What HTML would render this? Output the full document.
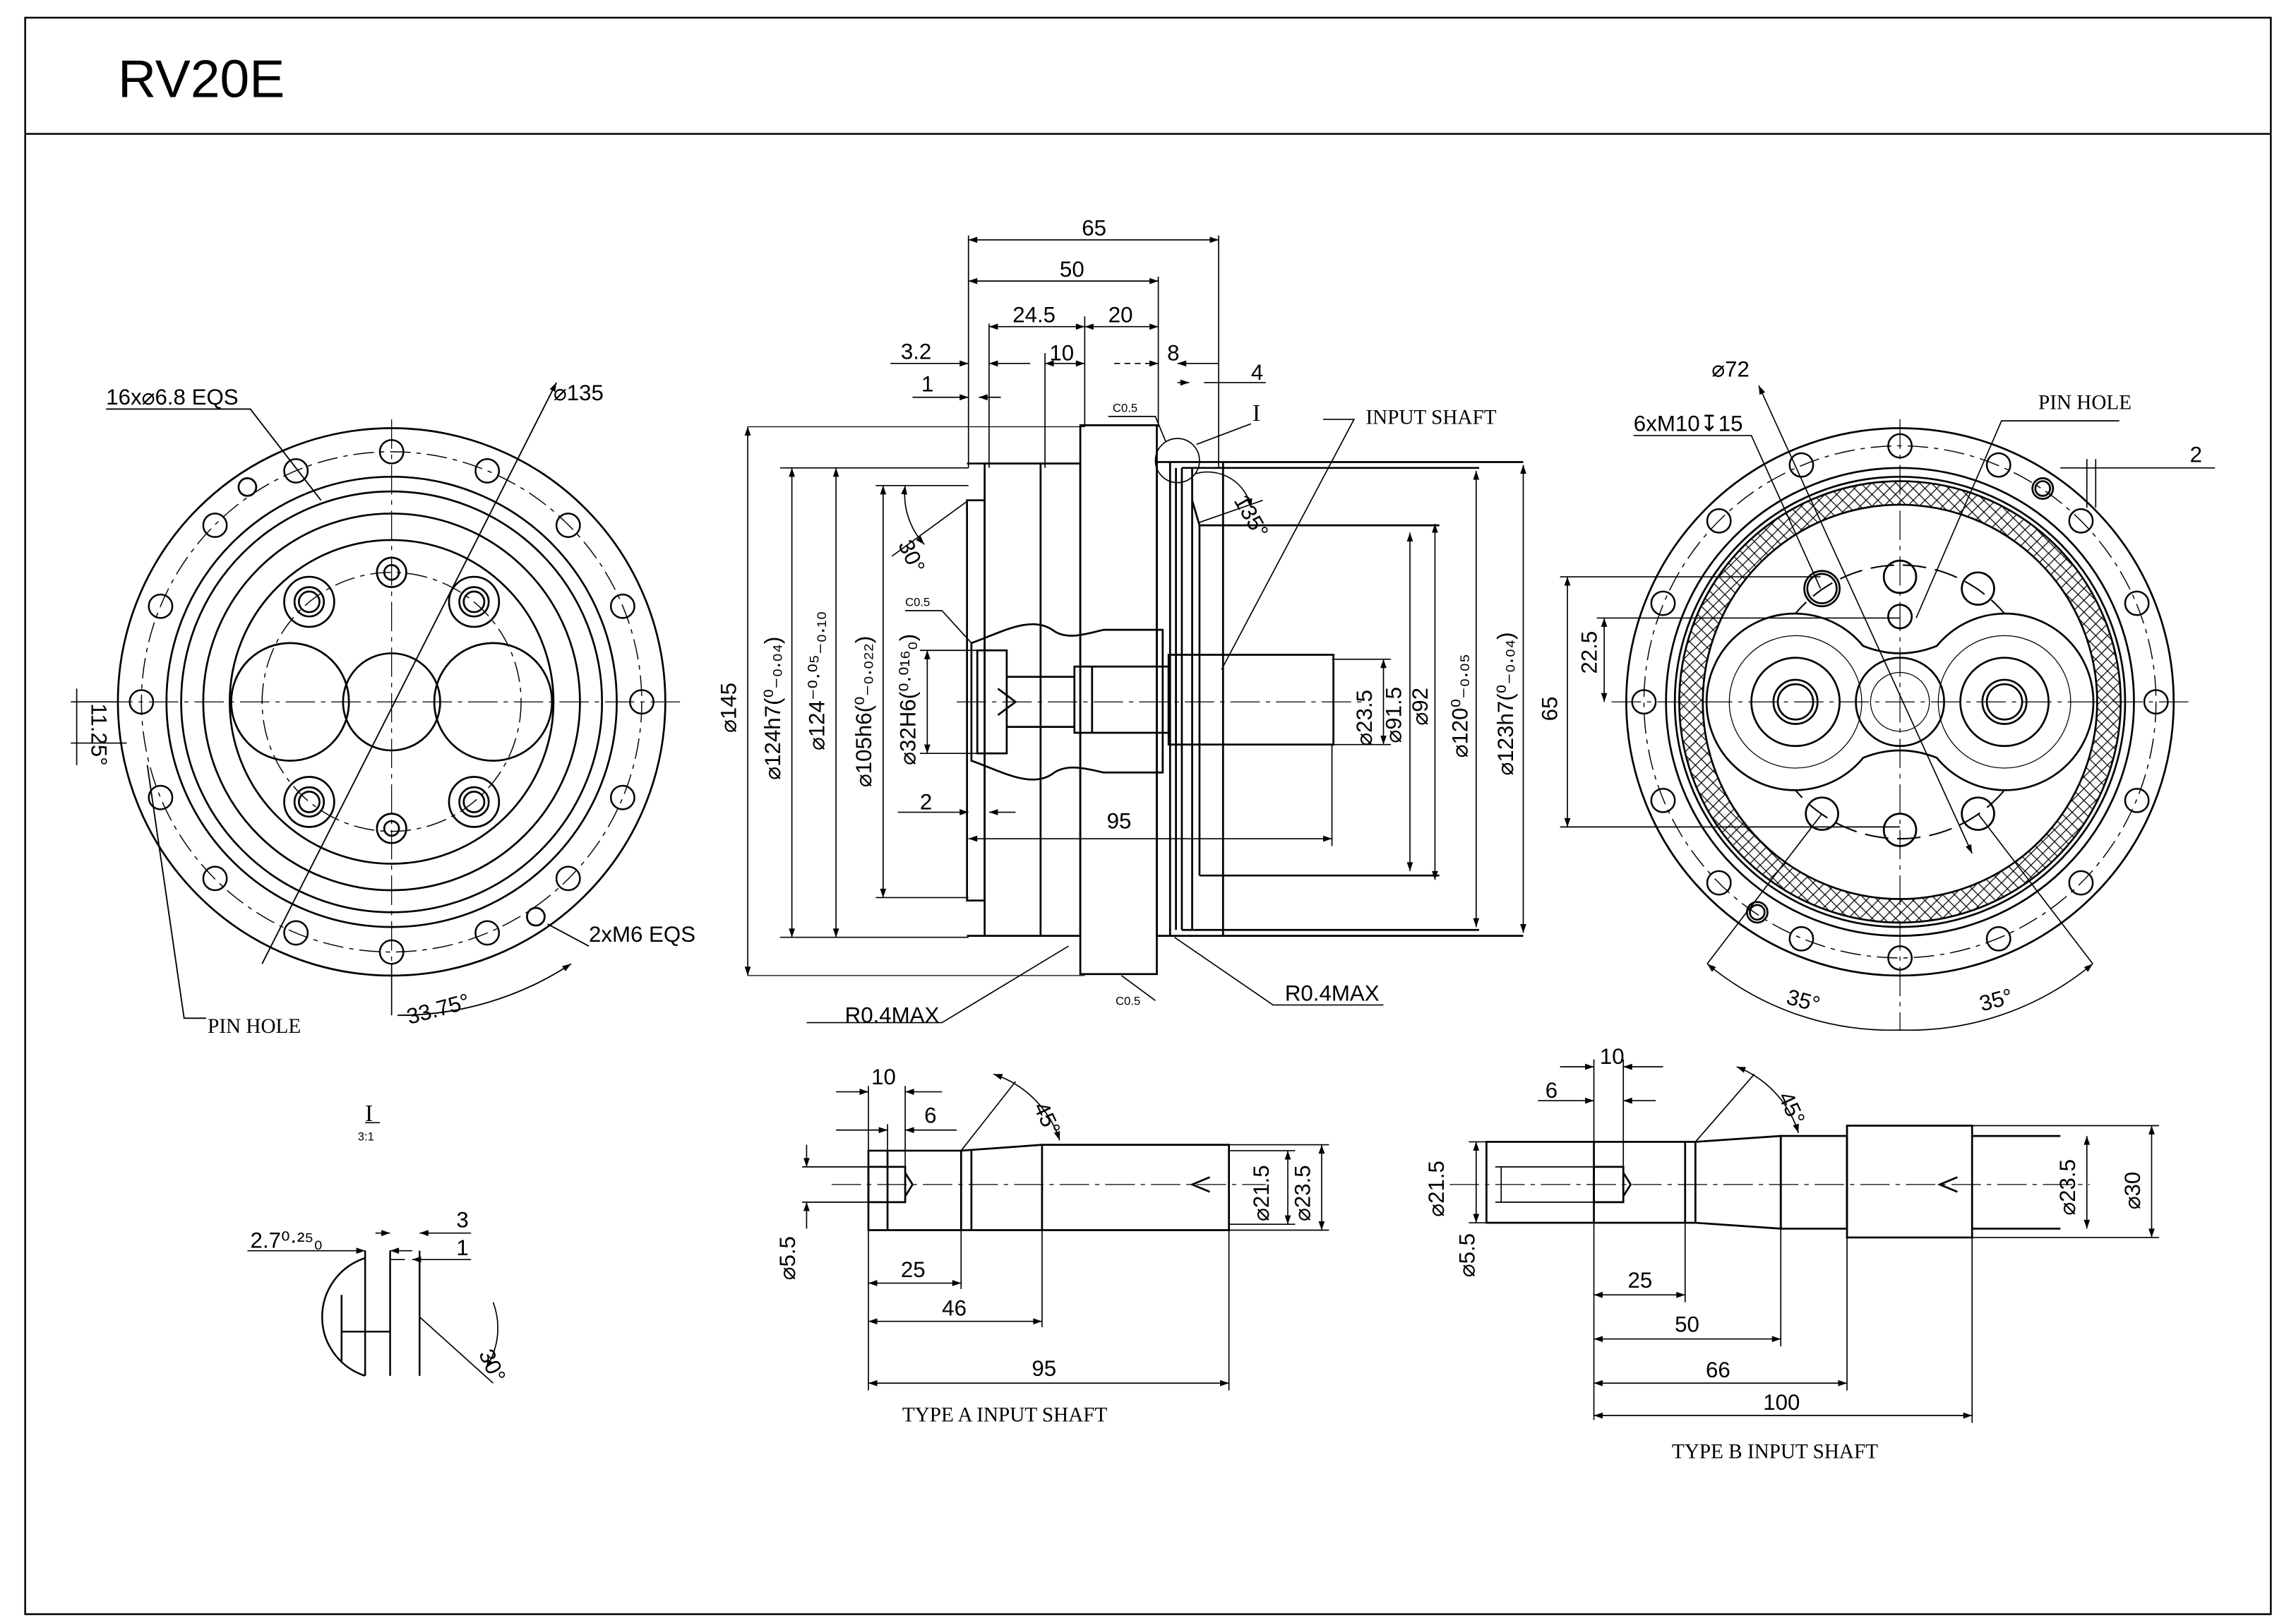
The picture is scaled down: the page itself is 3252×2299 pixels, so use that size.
<!DOCTYPE html>
<html><head><meta charset="utf-8"><style>
html,body{margin:0;padding:0;background:#fff;}
svg{display:block}
text{font-family:"Liberation Sans",sans-serif;fill:#000}
.s{font-family:"Liberation Serif",serif}
</style></head><body>
<svg width="3252" height="2299" viewBox="0 0 1560 1103" xmlns="http://www.w3.org/2000/svg">
<defs>
<marker id="a" viewBox="0 0 10 10" refX="10" refY="5" markerWidth="8" markerHeight="6" orient="auto-start-reverse" markerUnits="userSpaceOnUse"><path d="M0,1.5 L10,5 L0,8.5 z" fill="#000"/></marker>
<pattern id="h" width="8" height="8" patternUnits="userSpaceOnUse"><path d="M0,0L8,8M8,0L0,8" stroke="#000" stroke-width="0.6"/></pattern>
</defs>
<g fill="none" stroke="#000" stroke-width="1">
<rect x="17" y="12" width="1526" height="1085" stroke-width="1.2"/>
<line x1="17" y1="91" x2="1543" y2="91" stroke-width="1.2"/>

<!-- LEFT VIEW -->
<g stroke-width="1.3">
<circle cx="266" cy="477" r="186"/>
<circle cx="266" cy="477" r="153"/>
<circle cx="266" cy="477" r="143"/>
<circle cx="266" cy="477" r="128"/>
<circle cx="266" cy="477" r="110"/>
<circle cx="266" cy="477" r="170" stroke-dasharray="14 4 3 4" stroke-width="0.7"/>
<circle cx="266" cy="477" r="88" stroke-dasharray="14 4 3 4" stroke-width="0.7"/>
<circle cx="197" cy="477" r="40"/><circle cx="335" cy="477" r="40"/>
<circle cx="266" cy="477" r="33"/>
<circle cx="210" cy="409" r="17"/><circle cx="210" cy="409" r="10"/><circle cx="210" cy="409" r="7"/>
<circle cx="322" cy="409" r="17"/><circle cx="322" cy="409" r="10"/><circle cx="322" cy="409" r="7"/>
<circle cx="210" cy="545" r="17"/><circle cx="210" cy="545" r="10"/><circle cx="210" cy="545" r="7"/>
<circle cx="322" cy="545" r="17"/><circle cx="322" cy="545" r="10"/><circle cx="322" cy="545" r="7"/>
<circle cx="266" cy="389" r="10"/><circle cx="266" cy="389" r="5"/>
<circle cx="266" cy="563" r="10"/><circle cx="266" cy="563" r="5"/>
<circle cx="168" cy="331" r="6"/><circle cx="364" cy="623" r="6"/>
</g>
<g stroke-width="1.2">
<circle cx="266" cy="307" r="8"/><circle cx="201" cy="320" r="8"/><circle cx="146" cy="357" r="8"/><circle cx="109" cy="412" r="8"/>
<circle cx="96" cy="477" r="8"/><circle cx="109" cy="542" r="8"/><circle cx="146" cy="597" r="8"/><circle cx="201" cy="634" r="8"/>
<circle cx="266" cy="647" r="8"/><circle cx="331" cy="634" r="8"/><circle cx="386" cy="597" r="8"/><circle cx="423" cy="542" r="8"/>
<circle cx="436" cy="477" r="8"/><circle cx="423" cy="412" r="8"/><circle cx="386" cy="357" r="8"/><circle cx="331" cy="320" r="8"/>
</g>
<g stroke-width="0.6" stroke-dasharray="20 4 3 4">
<line x1="70" y1="477" x2="462" y2="477"/><line x1="266" y1="285" x2="266" y2="670"/>
</g>
<line x1="178" y1="655" x2="378" y2="260" stroke-width="0.9" marker-end="url(#a)"/>
<polyline points="72,278 170,278 218,340" stroke-width="0.9"/>
<polyline points="400,643 372,628" stroke-width="0.9"/>
<polyline points="100,520 125,692 140,692" stroke-width="0.9"/>
<path d="M266,690 L266,655" stroke-width="0.8"/>
<path d="M270,690 A213,213 0 0 0 388,655" stroke-width="0.9" marker-end="url(#a)"/>
<line x1="48" y1="477" x2="80" y2="477" stroke-width="0.8"/><line x1="48" y1="505" x2="86" y2="505" stroke-width="0.8"/>
<path d="M52,468 L52,520" stroke-width="0.8"/>

<!-- MIDDLE VIEW -->
<g stroke-width="1.3">
<rect x="734" y="289" width="52" height="373"/>
<rect x="669" y="315" width="65" height="321"/>
<rect x="657" y="340" width="12" height="272"/>
<line x1="657" y1="315" x2="669" y2="315"/><line x1="657" y1="636" x2="669" y2="636"/>
<line x1="707" y1="315" x2="707" y2="636"/>
<rect x="786" y="314" width="45" height="322"/>
<line x1="795" y1="314" x2="795" y2="636"/><line x1="799" y1="318" x2="799" y2="632"/><line x1="803" y1="318" x2="803" y2="632"/>
<line x1="810" y1="318" x2="810" y2="632"/>
<line x1="815" y1="357" x2="815" y2="595"/>
<line x1="810" y1="340" x2="815" y2="357"/>
<line x1="815" y1="357" x2="978" y2="357"/><line x1="815" y1="595" x2="978" y2="595"/>
<line x1="831" y1="314" x2="1035" y2="314"/><line x1="831" y1="636" x2="1035" y2="636"/>
<line x1="803" y1="318" x2="1005" y2="318"/><line x1="803" y1="632" x2="1005" y2="632"/>
<rect x="794" y="445" width="112" height="61"/>
<rect x="730" y="453" width="64" height="45"/>
<line x1="742" y1="453" x2="742" y2="498"/>
<path d="M660,437 C680,430 700,418 715,428 C725,436 740,430 750,428 L790,428 L790,525 L750,525 C740,523 725,518 715,526 C700,536 680,524 660,517 Z"/>
<rect x="664" y="442" width="20" height="70"/>
<line x1="684" y1="460" x2="730" y2="460"/><line x1="684" y1="494" x2="730" y2="494"/>
<path d="M678,468 L690,477 L678,486"/>
</g>
<line x1="650" y1="477" x2="925" y2="477" stroke-width="0.6" stroke-dasharray="20 4 3 4"/>
<g stroke-width="0.8">
<line x1="658" y1="160" x2="658" y2="318"/><line x1="828" y1="160" x2="828" y2="318"/>
<line x1="658" y1="163" x2="828" y2="163" marker-start="url(#a)" marker-end="url(#a)"/>
<line x1="787" y1="188" x2="787" y2="290"/>
<line x1="658" y1="191" x2="787" y2="191" marker-start="url(#a)" marker-end="url(#a)"/>
<line x1="737" y1="215" x2="737" y2="290"/><line x1="672" y1="220" x2="672" y2="318"/>
<line x1="672" y1="222" x2="737" y2="222" marker-start="url(#a)" marker-end="url(#a)"/>
<line x1="737" y1="222" x2="787" y2="222" marker-start="url(#a)" marker-end="url(#a)"/>
<line x1="605" y1="247" x2="658" y2="247" marker-end="url(#a)"/><line x1="672" y1="247" x2="700" y2="247" marker-start="url(#a)"/>
<line x1="710" y1="247" x2="737" y2="247" marker-start="url(#a)" marker-end="url(#a)"/>
<line x1="710" y1="240" x2="710" y2="318"/>
<line x1="757" y1="247" x2="787" y2="247" marker-end="url(#a)" stroke-dasharray="4 3"/>
<line x1="800" y1="247" x2="828" y2="247" marker-start="url(#a)"/>
<line x1="818" y1="260" x2="860" y2="260"/><line x1="800" y1="260" x2="808" y2="260" marker-end="url(#a)"/>
<line x1="620" y1="270" x2="658" y2="270" marker-end="url(#a)"/><line x1="665" y1="270" x2="680" y2="270" marker-start="url(#a)"/>
<line x1="508" y1="290" x2="737" y2="290" stroke-width="0.6"/><line x1="508" y1="663" x2="737" y2="663" stroke-width="0.6"/>
<line x1="508" y1="290" x2="508" y2="663" marker-start="url(#a)" marker-end="url(#a)"/>
<line x1="538" y1="318" x2="538" y2="637" marker-start="url(#a)" marker-end="url(#a)"/>
<line x1="530" y1="318" x2="658" y2="318"/><line x1="530" y1="637" x2="658" y2="637"/>
<line x1="568" y1="318" x2="568" y2="637" marker-start="url(#a)" marker-end="url(#a)"/>
<line x1="600" y1="330" x2="600" y2="610" marker-start="url(#a)" marker-end="url(#a)"/>
<line x1="595" y1="330" x2="658" y2="330"/><line x1="595" y1="610" x2="658" y2="610"/>
<line x1="630" y1="442" x2="630" y2="512" marker-start="url(#a)" marker-end="url(#a)"/>
<line x1="625" y1="442" x2="664" y2="442"/><line x1="625" y1="512" x2="664" y2="512"/>
<line x1="610" y1="552" x2="658" y2="552" marker-end="url(#a)"/><line x1="672" y1="552" x2="690" y2="552" marker-start="url(#a)"/>
<line x1="658" y1="570" x2="905" y2="570" marker-start="url(#a)" marker-end="url(#a)"/>
<line x1="905" y1="506" x2="905" y2="575"/>
<line x1="940" y1="448" x2="940" y2="506" marker-start="url(#a)" marker-end="url(#a)"/>
<line x1="905" y1="448" x2="945" y2="448"/><line x1="905" y1="506" x2="945" y2="506"/>
<line x1="958" y1="362" x2="958" y2="592" marker-start="url(#a)" marker-end="url(#a)"/>
<line x1="975" y1="356" x2="975" y2="598" marker-start="url(#a)" marker-end="url(#a)"/>
<line x1="1003" y1="320" x2="1003" y2="630" marker-start="url(#a)" marker-end="url(#a)"/>
<line x1="1035" y1="316" x2="1035" y2="634" marker-start="url(#a)" marker-end="url(#a)"/>
<polyline points="899,285 920,285 830,455"/>
<polyline points="548,695 640,695 726,643"/>
<polyline points="940,683 865,683 798,637"/>
<polyline points="753,283 785,283 792,300"/>
<polyline points="615,415 640,415 660,437"/>
<line x1="785" y1="680" x2="762" y2="663"/>
<circle cx="800" cy="313" r="15" stroke-width="0.8"/>
<line x1="813" y1="302" x2="850" y2="288"/>
<path d="M615,330 A50,50 0 0 0 628,370" marker-start="url(#a)" marker-end="url(#a)"/>
<line x1="606" y1="378" x2="658" y2="340"/>
<path d="M812,322 A30,30 0 0 1 850,345" marker-end="url(#a)"/>
<line x1="815" y1="355" x2="858" y2="340"/>
</g>

<!-- RIGHT VIEW -->
<circle cx="1291" cy="477" r="150" fill="url(#h)" stroke="none"/>
<circle cx="1291" cy="477" r="134" fill="#fff" stroke="none"/>
<g stroke-width="1.3">
<circle cx="1291" cy="477" r="186"/>
<circle cx="1291" cy="477" r="159"/>
<circle cx="1291" cy="477" r="153"/>
<circle cx="1291" cy="477" r="150"/>
<circle cx="1291" cy="477" r="134"/>
<circle cx="1291" cy="477" r="174" stroke-dasharray="14 4 3 4" stroke-width="0.7"/>
<circle cx="1291" cy="477" r="93" stroke-dasharray="16 6" stroke-width="1"/>
<path d="M1266,439 A60,60 0 1 0 1266,515 Q1291,505 1316,515 A60,60 0 1 0 1316,439 Q1291,449 1266,439 Z" fill="#fff"/>
<circle cx="1220" cy="477" r="30"/><circle cx="1220" cy="477" r="15"/><circle cx="1220" cy="477" r="12"/>
<circle cx="1362" cy="477" r="30"/><circle cx="1362" cy="477" r="15"/><circle cx="1362" cy="477" r="12"/>
<circle cx="1220" cy="477" r="45" stroke-width="0.6"/><circle cx="1362" cy="477" r="45" stroke-width="0.6"/>
<circle cx="1291" cy="477" r="30"/><circle cx="1291" cy="477" r="20" stroke-width="0.6"/>
<circle cx="1238" cy="400" r="12"/><circle cx="1238" cy="400" r="10"/>
<circle cx="1344" cy="400" r="11"/><circle cx="1238" cy="553" r="11"/><circle cx="1344" cy="553" r="11"/>
<circle cx="1291" cy="392" r="11"/><circle cx="1291" cy="564" r="11"/>
<circle cx="1291" cy="419" r="8"/>
<circle cx="1194" cy="620" r="7"/><circle cx="1194" cy="620" r="5"/><circle cx="1388" cy="332" r="7"/><circle cx="1388" cy="332" r="5"/>
</g>
<g stroke-width="1.2">
<circle cx="1291" cy="303" r="8"/><circle cx="1224" cy="316" r="8"/><circle cx="1168" cy="354" r="8"/><circle cx="1130" cy="410" r="8"/>
<circle cx="1117" cy="477" r="8"/><circle cx="1130" cy="544" r="8"/><circle cx="1168" cy="600" r="8"/><circle cx="1224" cy="638" r="8"/>
<circle cx="1291" cy="651" r="8"/><circle cx="1358" cy="638" r="8"/><circle cx="1414" cy="600" r="8"/><circle cx="1452" cy="544" r="8"/>
<circle cx="1465" cy="477" r="8"/><circle cx="1452" cy="410" r="8"/><circle cx="1414" cy="354" r="8"/><circle cx="1358" cy="316" r="8"/>
</g>
<g stroke-width="0.6" stroke-dasharray="20 4 3 4">
<line x1="1095" y1="477" x2="1490" y2="477"/><line x1="1291" y1="285" x2="1291" y2="700"/>
</g>
<g stroke-width="0.8">
<line x1="1060" y1="392" x2="1237" y2="392"/><line x1="1060" y1="562" x2="1291" y2="562"/>
<line x1="1065" y1="392" x2="1065" y2="562" marker-start="url(#a)" marker-end="url(#a)"/>
<line x1="1085" y1="420" x2="1291" y2="420"/>
<line x1="1090" y1="420" x2="1090" y2="477" marker-start="url(#a)" marker-end="url(#a)"/>
<polyline points="1110,296 1190,296 1237,400"/>
<line x1="1195" y1="262" x2="1340" y2="580" marker-start="url(#a)" marker-end="url(#a)"/>
<polyline points="1440,286 1360,286 1302,420"/>
<line x1="1400" y1="318" x2="1505" y2="318"/>
<line x1="1418" y1="312" x2="1418" y2="345"/><line x1="1424" y1="312" x2="1424" y2="345"/>
<path d="M1160,655 A195,195 0 0 0 1291,700 A195,195 0 0 0 1422,655" marker-start="url(#a)" marker-end="url(#a)"/>
<line x1="1160" y1="655" x2="1238" y2="553"/><line x1="1422" y1="655" x2="1344" y2="553"/>
</g>

<!-- DETAIL I -->
<g stroke-width="1.2">
<path d="M248,855 A42,42 0 0 0 248,935"/>
<line x1="248" y1="850" x2="248" y2="935"/><line x1="265" y1="850" x2="265" y2="935"/>
<line x1="285" y1="850" x2="285" y2="935"/>
<line x1="232" y1="905" x2="265" y2="905"/><line x1="232" y1="880" x2="232" y2="925"/>
</g>
<g stroke-width="0.8">
<line x1="168" y1="850" x2="248" y2="850" marker-end="url(#a)"/><line x1="265" y1="850" x2="280" y2="850" marker-start="url(#a)"/>
<line x1="255" y1="838" x2="265" y2="838" marker-end="url(#a)"/><line x1="285" y1="838" x2="320" y2="838" marker-start="url(#a)"/>
<line x1="265" y1="856" x2="275" y2="856"/><line x1="280" y1="856" x2="320" y2="856" marker-start="url(#a)"/>
<line x1="285" y1="895" x2="335" y2="940"/>
<path d="M335,885 A50,50 0 0 1 330,930" marker-end="url(#a)"/>
<line x1="248" y1="763" x2="258" y2="763"/>
</g>

<!-- TYPE A -->
<g stroke-width="1.3">
<path d="M590,782 L653,782 L653,836 L590,836 Z"/>
<path d="M653,782 L708,778 L835,778 L835,836 L708,836 L653,836"/>
<line x1="708" y1="778" x2="708" y2="836"/>
<line x1="660" y1="782" x2="660" y2="836"/>
<line x1="603" y1="782" x2="603" y2="836"/>
<rect x="590" y="793" width="25" height="24"/>
<path d="M615,797 L620,805 L615,813"/>
<path d="M822,800 L810,805 L822,810"/>
</g>
<line x1="565" y1="805" x2="860" y2="805" stroke-width="0.6" stroke-dasharray="20 4 3 4"/>
<g stroke-width="0.8">
<line x1="568" y1="742" x2="590" y2="742" marker-end="url(#a)"/><line x1="615" y1="742" x2="640" y2="742" marker-start="url(#a)"/>
<line x1="590" y1="738" x2="590" y2="945"/><line x1="615" y1="738" x2="615" y2="793"/>
<line x1="568" y1="768" x2="603" y2="768" marker-end="url(#a)"/><line x1="615" y1="768" x2="650" y2="768" marker-start="url(#a)"/>
<line x1="603" y1="764" x2="603" y2="782"/>
<line x1="548" y1="778" x2="548" y2="793" marker-end="url(#a)"/><line x1="548" y1="835" x2="548" y2="817" marker-end="url(#a)"/>
<line x1="545" y1="793" x2="590" y2="793"/><line x1="545" y1="817" x2="590" y2="817"/>
<line x1="590" y1="872" x2="653" y2="872" marker-start="url(#a)" marker-end="url(#a)"/>
<line x1="653" y1="836" x2="653" y2="876"/>
<line x1="590" y1="898" x2="708" y2="898" marker-start="url(#a)" marker-end="url(#a)"/>
<line x1="708" y1="836" x2="708" y2="902"/>
<line x1="590" y1="940" x2="835" y2="940" marker-start="url(#a)" marker-end="url(#a)"/>
<line x1="835" y1="836" x2="835" y2="945"/>
<line x1="875" y1="782" x2="875" y2="832" marker-start="url(#a)" marker-end="url(#a)"/>
<line x1="835" y1="782" x2="880" y2="782"/><line x1="835" y1="832" x2="880" y2="832"/>
<line x1="898" y1="778" x2="898" y2="836" marker-start="url(#a)" marker-end="url(#a)"/>
<line x1="835" y1="778" x2="903" y2="778"/><line x1="835" y1="836" x2="903" y2="836"/>
<line x1="653" y1="782" x2="690" y2="735"/>
<path d="M675,730 A70,70 0 0 1 720,775" marker-start="url(#a)" marker-end="url(#a)"/>
</g>

<!-- TYPE B -->
<g stroke-width="1.3">
<rect x="1010" y="776" width="142" height="55"/>
<line x1="1083" y1="776" x2="1083" y2="831"/>
<line x1="1145" y1="776" x2="1145" y2="831"/>
<path d="M1152,776 L1210,772 L1210,835 L1152,831"/>
<rect x="1210" y="772" width="45" height="63"/>
<rect x="1255" y="765" width="85" height="76"/>
<line x1="1340" y1="772" x2="1400" y2="772"/><line x1="1340" y1="835" x2="1400" y2="835"/>
<rect x="1083" y="793" width="20" height="24"/>
<path d="M1103,797 L1108,805 L1103,813"/>
<path d="M1330,800 L1318,805 L1330,810"/>
</g>
<line x1="985" y1="805" x2="1420" y2="805" stroke-width="0.6" stroke-dasharray="20 4 3 4"/>
<g stroke-width="0.8">
<line x1="1060" y1="725" x2="1083" y2="725" marker-end="url(#a)"/><line x1="1103" y1="725" x2="1130" y2="725" marker-start="url(#a)"/>
<line x1="1083" y1="720" x2="1083" y2="965"/><line x1="1103" y1="720" x2="1103" y2="793"/>
<line x1="1045" y1="748" x2="1083" y2="748" marker-end="url(#a)"/><line x1="1103" y1="748" x2="1125" y2="748" marker-start="url(#a)"/>
<line x1="1003" y1="776" x2="1003" y2="831" marker-start="url(#a)" marker-end="url(#a)"/>
<line x1="998" y1="776" x2="1010" y2="776"/><line x1="998" y1="831" x2="1010" y2="831"/>
<line x1="1020" y1="793" x2="1020" y2="817"/>
<line x1="1016" y1="793" x2="1083" y2="793"/><line x1="1016" y1="817" x2="1083" y2="817"/>
<line x1="1083" y1="880" x2="1145" y2="880" marker-start="url(#a)" marker-end="url(#a)"/>
<line x1="1145" y1="831" x2="1145" y2="885"/>
<line x1="1083" y1="910" x2="1210" y2="910" marker-start="url(#a)" marker-end="url(#a)"/>
<line x1="1210" y1="835" x2="1210" y2="915"/>
<line x1="1083" y1="940" x2="1255" y2="940" marker-start="url(#a)" marker-end="url(#a)"/>
<line x1="1255" y1="841" x2="1255" y2="945"/>
<line x1="1083" y1="962" x2="1340" y2="962" marker-start="url(#a)" marker-end="url(#a)"/>
<line x1="1340" y1="841" x2="1340" y2="967"/>
<line x1="1418" y1="772" x2="1418" y2="835" marker-start="url(#a)" marker-end="url(#a)"/>
<line x1="1462" y1="765" x2="1462" y2="841" marker-start="url(#a)" marker-end="url(#a)"/>
<line x1="1340" y1="765" x2="1467" y2="765"/><line x1="1340" y1="841" x2="1467" y2="841"/>
<line x1="1152" y1="776" x2="1192" y2="730"/>
<path d="M1180,725 A70,70 0 0 1 1222,770" marker-start="url(#a)" marker-end="url(#a)"/>
</g>
</g>

<!-- TEXT -->
<text x="80" y="66" font-size="36">RV20E</text>
<g font-size="15">
<text x="72" y="275">16x⌀6.8 EQS</text>
<text x="376" y="272">⌀135</text>
<text x="400" y="640">2xM6 EQS</text>
<text x="275" y="690" transform="rotate(-15 300 682)">33.75°</text>
<text x="62" y="478" transform="rotate(90 62 478)">11.25°</text>
<text x="735" y="160">65</text>
<text x="720" y="188">50</text>
<text x="688" y="219">24.5</text>
<text x="753" y="219">20</text>
<text x="612" y="244">3.2</text>
<text x="713" y="245">10</text>
<text x="793" y="245">8</text>
<text x="850" y="258">4</text>
<text x="626" y="266">1</text>
<text x="625" y="550">2</text>
<text x="752" y="563">95</text>
<text x="574" y="695">R0.4MAX</text>
<text x="873" y="680">R0.4MAX</text>
<text x="500" y="498" transform="rotate(-90 500 498)">⌀145</text>
<text x="530" y="530" transform="rotate(-90 530 530)">⌀124h7(⁰₋₀.₀₄)</text>
<text x="560" y="510" transform="rotate(-90 560 510)">⌀124⁻⁰·⁰⁵₋₀.₁₀</text>
<text x="592" y="535" transform="rotate(-90 592 535)">⌀105h6(⁰₋₀.₀₂₂)</text>
<text x="622" y="520" transform="rotate(-90 622 520)">⌀32H6(⁰·⁰¹⁶₀)</text>
<text x="932" y="507" transform="rotate(-90 932 507)">⌀23.5</text>
<text x="952" y="505" transform="rotate(-90 952 505)">⌀91.5</text>
<text x="970" y="493" transform="rotate(-90 970 493)">⌀92</text>
<text x="997" y="515" transform="rotate(-90 997 515)">⌀120⁰₋₀.₀₅</text>
<text x="1028" y="527" transform="rotate(-90 1028 527)">⌀123h7(⁰₋₀.₀₄)</text>
<text x="610" y="370" transform="rotate(65 610 370)">30°</text>
<text x="838" y="340" transform="rotate(60 838 340)">135°</text>
<text x="1163" y="256">⌀72</text>
<text x="1110" y="293">6xM10↧15</text>
<text x="1488" y="314">2</text>
<text x="1058" y="490" transform="rotate(-90 1058 490)">65</text>
<text x="1085" y="458" transform="rotate(-90 1085 458)">22.5</text>
<text x="1214" y="685" transform="rotate(15 1225 680)">35°</text>
<text x="1345" y="685" transform="rotate(-15 1355 680)">35°</text>
<text x="170" y="848">2.7⁰·²⁵₀</text>
<text x="310" y="834">3</text>
<text x="310" y="853">1</text>
<text x="325" y="920" transform="rotate(65 325 920)">30°</text>
<text x="592" y="737">10</text>
<text x="628" y="763">6</text>
<text x="702" y="752" transform="rotate(65 702 752)">45°</text>
<text x="540" y="870" transform="rotate(-90 540 870)">⌀5.5</text>
<text x="612" y="868">25</text>
<text x="640" y="894">46</text>
<text x="701" y="935">95</text>
<text x="862" y="830" transform="rotate(-90 862 830)">⌀21.5</text>
<text x="890" y="830" transform="rotate(-90 890 830)">⌀23.5</text>
<text x="1087" y="723">10</text>
<text x="1050" y="746">6</text>
<text x="1208" y="745" transform="rotate(65 1208 745)">45°</text>
<text x="981" y="827" transform="rotate(-90 981 827)">⌀21.5</text>
<text x="1002" y="868" transform="rotate(-90 1002 868)">⌀5.5</text>
<text x="1106" y="875">25</text>
<text x="1138" y="905">50</text>
<text x="1159" y="936">66</text>
<text x="1198" y="958">100</text>
<text x="1410" y="826" transform="rotate(-90 1410 826)">⌀23.5</text>
<text x="1454" y="822" transform="rotate(-90 1454 822)">⌀30</text>
</g>
<g class="s" font-size="14">
<text x="141" y="702" class="s">PIN HOLE</text>
<text x="928" y="288" class="s">INPUT SHAFT</text>
<text x="1385" y="278" class="s">PIN HOLE</text>
<text x="613" y="966" class="s">TYPE A INPUT SHAFT</text>
<text x="1136" y="991" class="s">TYPE B INPUT SHAFT</text>
<text x="851" y="286" class="s" font-size="16">I</text>
<text x="248" y="762" class="s" font-size="16">I</text>
<text x="243" y="775" font-size="8">3:1</text>
<text x="756" y="280" font-size="8">C0.5</text>
<text x="615" y="412" font-size="8">C0.5</text>
<text x="758" y="683" font-size="8">C0.5</text>
</g>
</svg>
</body></html>
